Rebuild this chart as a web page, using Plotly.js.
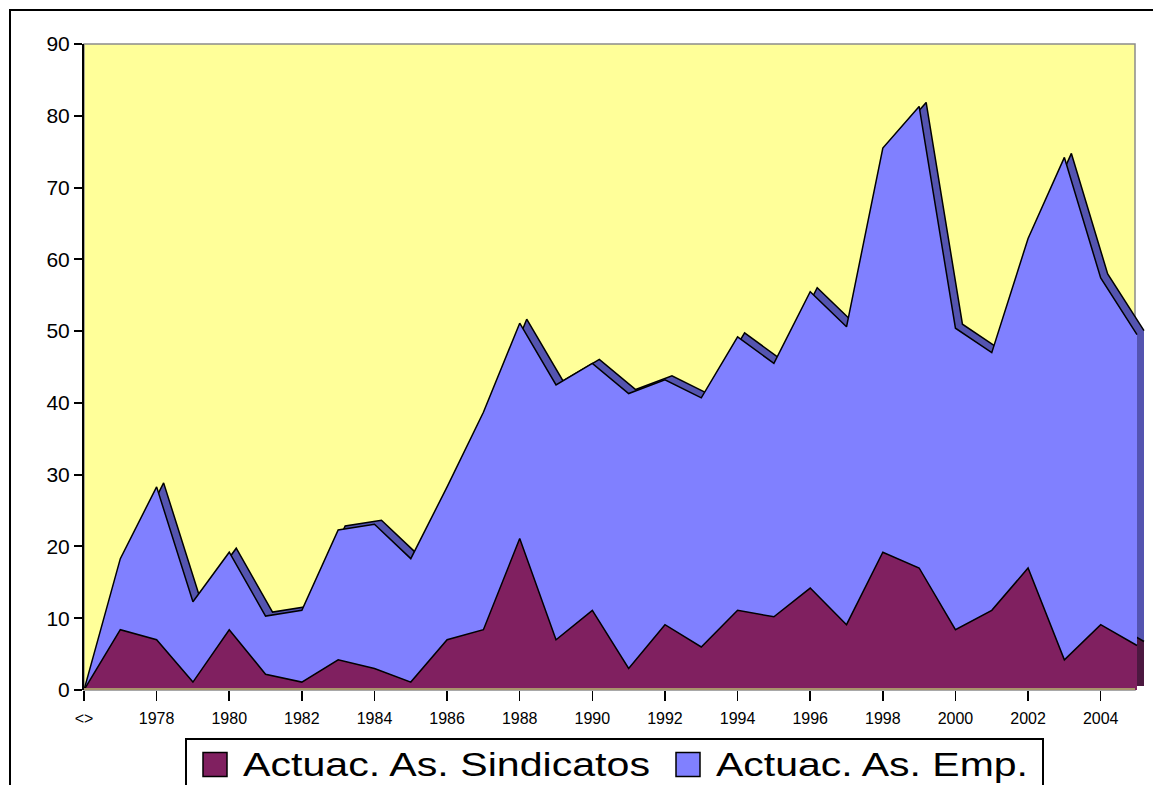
<!DOCTYPE html>
<html>
<head>
<meta charset="utf-8">
<script src="https://cdn.plot.ly/plotly-3.0.1.min.js"></script>
<style>html,body{margin:0;padding:0;background:#fff;}#chart{width:1153px;height:785px;}</style>
</head>
<body>
<div id="chart"></div>
<script>
// ---- data ----
const categories = ["<>", "1977", "1978", "1979", "1980", "1981", "1982", "1983", "1984", "1985",
  "1986", "1987", "1988", "1989", "1990", "1991", "1992", "1993", "1994", "1995",
  "1996", "1997", "1998", "1999", "2000", "2001", "2002", "2003", "2004", "2005"];
const sindicatos = [0, 8.4, 7.0, 1.1, 8.4, 2.2, 1.1, 4.2, 3.0, 1.1,
  7.0, 8.4, 21.1, 7.0, 11.1, 3.0, 9.1, 6.0, 11.1, 10.2,
  14.2, 9.1, 19.2, 17.0, 8.4, 11.1, 17.0, 4.2, 9.1, 6.2];
const empresarios = [0, 9.9, 21.3, 11.2, 10.8, 8.1, 10.0, 18.1, 20.1, 17.2,
  21.3, 30.3, 30.0, 35.5, 34.4, 38.3, 34.1, 34.7, 38.1, 35.3,
  41.3, 41.5, 56.3, 64.3, 42.0, 35.9, 45.9, 70.0, 48.3, 43.3];
const seriesNames = ["Actuac. As. Sindicatos", "Actuac. As. Emp."];
const tickVals = ["<>", "1978", "1980", "1982", "1984", "1986", "1988", "1990", "1992", "1994",
  "1996", "1998", "2000", "2002", "2004"];

// ---- styling / geometry ----
const W = 1153, H = 785;
const L = 84, R = 3, T = 44, B = 95;
const plotW = W - L - R, plotH = H - T - B;
const pxPerCat = 1053 / 29;
const xMax = plotW / pxPerCat;
const pxPerUnit = plotH / 90;
const depthX = 7, depthY = 4; // 3D depth offset in px
const FONT = "Liberation Sans, Arial, sans-serif";
const colSind = "#802060", colEmp = "#8080ff";
const colSindBack = "#4c1840", colEmpBack = "#5454b0";
const px2paperX = p => (p - L) / plotW;
const px2paperY = p => (H - B - p) / plotH;

const backCommon = {type: "scatter", mode: "lines", xaxis: "x", yaxis: "y", stackgroup: "back",
  line: {color: "#000", width: 1.5, shape: "linear"}, showlegend: false, hoverinfo: "skip"};
const frontCommon = {type: "scatter", mode: "lines", xaxis: "x2", yaxis: "y2", stackgroup: "front",
  line: {color: "#000", width: 1.5, shape: "linear"}, showlegend: false};

const traces = [
  Object.assign({}, backCommon, {x: categories, y: sindicatos, fillcolor: colSindBack}),
  Object.assign({}, backCommon, {x: categories, y: empresarios, fillcolor: colEmpBack}),
  Object.assign({}, frontCommon, {x: categories, y: sindicatos, fillcolor: colSind, name: seriesNames[0]}),
  Object.assign({}, frontCommon, {x: categories, y: empresarios, fillcolor: colEmp, name: seriesNames[1]}),
  {type: "scatter", mode: "markers", x: [null], y: [null], xaxis: "x2", yaxis: "y2", name: seriesNames[0],
   legendwidth: 428,
   marker: {symbol: "square", size: 16, color: colSind, line: {color: "#000", width: 1.5}}, showlegend: true},
  {type: "scatter", mode: "markers", x: [null], y: [null], xaxis: "x2", yaxis: "y2", name: seriesNames[1],
   legendwidth: 337,
   marker: {symbol: "square", size: 16, color: colEmp, line: {color: "#000", width: 1.5}}, showlegend: true}
];

const dxCat = depthX / pxPerCat, dyVal = depthY / pxPerUnit;
const hidden = {showgrid: false, zeroline: false, showline: false, ticks: "", showticklabels: false};

const layout = {
  width: W, height: H,
  margin: {l: L, r: R, t: T, b: B, autoexpand: false},
  paper_bgcolor: "#ffffff",
  plot_bgcolor: "rgba(0,0,0,0)",
  font: {family: FONT, color: "#000"},
  showlegend: true,
  xaxis: Object.assign({type: "category", range: [-dxCat, xMax - dxCat], fixedrange: true}, hidden),
  yaxis: Object.assign({range: [-dyVal, 90 - dyVal], fixedrange: true}, hidden),
  xaxis2: {type: "category", overlaying: "x", anchor: "y2", side: "bottom", range: [0, xMax],
    tickmode: "array", tickvals: tickVals, ticktext: tickVals,
    ticks: "outside", ticklen: 10, tickwidth: 1.5, tickcolor: "#000",
    ticklabelstandoff: 4, tickangle: 0,
    tickfont: {family: FONT, size: 16, color: "#000"},
    showline: false, showgrid: false, zeroline: false, fixedrange: true},
  yaxis2: {overlaying: "y", anchor: "x2", side: "left", range: [0, 90],
    tickmode: "linear", tick0: 0, dtick: 10,
    ticks: "outside", ticklen: 8, tickwidth: 2, tickcolor: "#000",
    tickfont: {family: FONT, size: 21, color: "#000"},
    showline: true, linecolor: "#000", linewidth: 2,
    showgrid: false, zeroline: false, fixedrange: true},
  legend: {orientation: "h", x: px2paperX(185), y: px2paperY(738), xanchor: "left", yanchor: "top",
    bgcolor: "#ffffff", bordercolor: "#000", borderwidth: 2,
    font: {family: FONT, size: 34, color: "#000"}, itemwidth: 30, traceorder: "normal"},
  shapes: [
    // back wall
    {type: "rect", xref: "paper", yref: "paper", layer: "below",
     x0: 0, x1: px2paperX(1135), y0: 0, y1: 1,
     fillcolor: "#ffff99", line: {color: "#8c8c8c", width: 1.5}},
    // floor edge
    {type: "line", xref: "paper", yref: "paper", layer: "above",
     x0: 0, x1: px2paperX(1135), y0: px2paperY(689), y1: px2paperY(689),
     line: {color: "#a8946c", width: 2}},
    // outer chart border
    {type: "rect", xref: "paper", yref: "paper", layer: "above",
     x0: px2paperX(10), x1: px2paperX(1175), y0: px2paperY(820), y1: px2paperY(10),
     fillcolor: "rgba(0,0,0,0)", line: {color: "#000", width: 2}}
  ]
};

const legendTextWidths = [407, 312];

Plotly.newPlot("chart", traces, layout, {staticPlot: true, displayModeBar: false}).then(function () {
  document.querySelectorAll(".legend .traces").forEach(function (g, i) {
    const t = g.querySelector("text.legendtext");
    if (t && legendTextWidths[i]) {
      const y0 = parseFloat(t.getAttribute("y") || "0");
      t.setAttribute("x", 56);
      t.setAttribute("y", y0 - 6);
      t.setAttribute("textLength", legendTextWidths[i]);
      t.setAttribute("lengthAdjust", "spacingAndGlyphs");
    }
    const pts = g.querySelector(".legendpoints");
    if (pts) {
      const tr = pts.getAttribute("transform") || "";
      pts.setAttribute("transform", tr + " translate(8,-4)");
    }
    g.querySelectorAll("path.scatterpts").forEach(function (p) {
      p.setAttribute("d", "M12,12H-12V-12H12Z");
    });
  });
});
</script>
</body>
</html>
